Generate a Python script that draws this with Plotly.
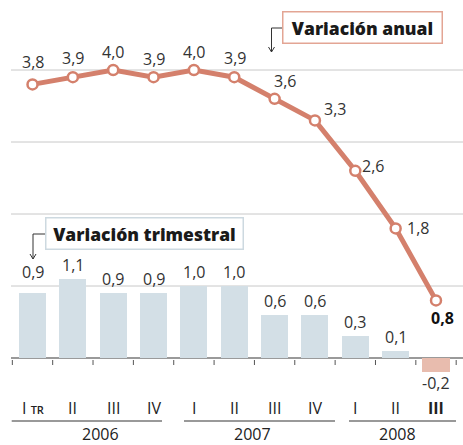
import plotly.graph_objects as go

# ---- data ----
quarters = ["I", "II", "III", "IV", "I", "II", "III", "IV", "I", "II", "III"]
years = ["2006", "2007", "2008"]
annual = [3.8, 3.9, 4.0, 3.9, 4.0, 3.9, 3.6, 3.3, 2.6, 1.8, 0.8]
quarterly = [0.9, 1.1, 0.9, 0.9, 1.0, 1.0, 0.6, 0.6, 0.3, 0.1, -0.2]

# ---- geometry (pixels) ----
W, H = 463, 445
X0_PX, DX_PX = 32.5, 40.35   # centre of first category, spacing
Y0_PX, DY_PX = 358, 72       # zero line, px per unit
x_range = [-X0_PX / DX_PX, (W - X0_PX) / DX_PX]
y_range = [(Y0_PX - H) / DY_PX, Y0_PX / DY_PX]


def px2x(px):
    return (px - X0_PX) / DX_PX


def py2y(py):
    return (Y0_PX - py) / DY_PX


def xp(px):
    return px / W


def yp(py):
    return 1 - py / H


def fmt(v):
    return f"{v:.1f}".replace(".", ",")


SALMON = "#d4806c"
BAR = "#d3dfe6"
NEG = "#e8bcae"
TXT = "#333333"
NUMFONT = "Open Sans"
TITLEFONT = "Open Sans"
NUMSIZE = 16

xs = list(range(len(annual)))

fig = go.Figure()
fig.add_trace(go.Bar(
    x=xs, y=quarterly, width=0.67,
    marker=dict(color=[BAR if v >= 0 else NEG for v in quarterly], line=dict(width=0)),
    hoverinfo="skip",
))
fig.add_trace(go.Scatter(
    x=xs, y=annual, mode="lines+markers",
    line=dict(color=SALMON, width=5),
    marker=dict(size=10, color="white", line=dict(color=SALMON, width=2.5)),
    hoverinfo="skip",
))

shapes = []
# gridlines
for g in [1, 2, 3, 4]:
    shapes.append(dict(type="line", xref="paper", yref="y", x0=xp(11), x1=1, y0=g, y1=g,
                       line=dict(color="#c8c8c8", width=1), layer="below"))
shapes.append(dict(type="line", xref="paper", yref="y", x0=xp(11), x1=1, y0=0, y1=0,
                   line=dict(color="#9a9a9a", width=2), layer="below"))
# ticks between categories
for i in range(len(annual) + 1):
    shapes.append(dict(type="line", xref="x", yref="y", x0=i - 0.5, x1=i - 0.5,
                       y0=py2y(360), y1=py2y(365), line=dict(color="#555", width=1)))
# year underlines
year_spans = [(11.7, 162), (184, 335), (349, 456)]
for a, b in year_spans:
    shapes.append(dict(type="line", xref="paper", yref="paper", x0=xp(a), x1=xp(b),
                       y0=yp(421), y1=yp(421), line=dict(color="#999", width=2)))


def elbow(x_start, y_row, x_corner, y_tip):
    path = (f"M {xp(x_start)},{yp(y_row)} L {xp(x_corner)},{yp(y_row)} "
            f"L {xp(x_corner)},{yp(y_tip)}")
    head = (f"M {xp(x_corner - 3)},{yp(y_tip - 5)} L {xp(x_corner)},{yp(y_tip)} "
            f"L {xp(x_corner + 3)},{yp(y_tip - 5)}")
    return [dict(type="path", xref="paper", yref="paper", path=path,
                 line=dict(color="#333", width=1)),
            dict(type="path", xref="paper", yref="paper", path=head,
                 line=dict(color="#333", width=1))]


shapes += elbow(282, 28, 271.5, 52)
shapes += elbow(45, 234, 33, 259)

ann = []
# annual labels
line_off = [(0, 22), (0, 19), (0, 18), (0, 18), (0, 18), (1, 19), (10, 18), (20, 11),
            (18, 5), (22, 0), (6, -18)]
for i, v in enumerate(annual):
    dx, dy = line_off[i]
    last = i == len(annual) - 1
    ann.append(dict(x=i, y=v, xref="x", yref="y", text=(f"<b>{fmt(v)}</b>" if last else fmt(v)),
                    showarrow=False, xshift=dx, yshift=dy, xanchor="center", yanchor="middle",
                    font=dict(family=NUMFONT, size=NUMSIZE, color="#111" if last else TXT)))
# quarterly labels
for i, v in enumerate(quarterly):
    if v >= 0:
        dy = 21 if i == 0 else 14
        ann.append(dict(x=i, y=v, xref="x", yref="y", text=fmt(v), showarrow=False,
                        yshift=dy, yanchor="middle",
                        font=dict(family=NUMFONT, size=NUMSIZE, color=TXT)))
    else:
        ann.append(dict(x=i, y=v, xref="x", yref="y", text=fmt(v), showarrow=False,
                        yshift=-11, yanchor="middle",
                        font=dict(family=NUMFONT, size=NUMSIZE, color=TXT)))
# quarter labels
for i, q in enumerate(quarters):
    if i == 0:
        t = "I <span style='font-size:11px;font-weight:600'>TR</span>"
    elif i == len(quarters) - 1:
        t = f"<b>{q}</b>"
    else:
        t = q
    ann.append(dict(x=i, y=py2y(408), xref="x", yref="y", text=t, showarrow=False,
                    yanchor="middle", font=dict(family=NUMFONT, size=16, color="#222")))
# year labels
for yl, cx in zip(years, [80, 252, 418]):
    ann.append(dict(x=xp(cx), y=yp(434), xref="paper", yref="paper", text=yl, showarrow=False,
                    yanchor="middle", font=dict(family=NUMFONT, size=16, color="#222")))
# titled boxes
ann.append(dict(x=xp(362), y=yp(27.5), xref="paper", yref="paper",
                text="Variación anual", showarrow=False,
                width=152, height=24, borderpad=3, borderwidth=1.5, bordercolor="#e3a594",
                bgcolor="white", xanchor="center", yanchor="middle",
                font=dict(family=TITLEFONT, size=17.5, color="#1a1a1a", weight=800)))
ann.append(dict(x=xp(144), y=yp(233), xref="paper", yref="paper",
                text="Variación trimestral", showarrow=False,
                width=190, height=24, borderpad=3, borderwidth=1.5, bordercolor="#cdd9e0",
                bgcolor="white", xanchor="center", yanchor="middle",
                font=dict(family=TITLEFONT, size=17.5, color="#1a1a1a", weight=800)))

fig.update_layout(
    width=W, height=H,
    margin=dict(l=0, r=0, t=0, b=0),
    paper_bgcolor="white", plot_bgcolor="white",
    showlegend=False,
    xaxis=dict(range=x_range, visible=False, fixedrange=True),
    yaxis=dict(range=y_range, visible=False, fixedrange=True),
    shapes=shapes, annotations=ann,
    bargap=0,
)

fig.write_html("out.html", config={"displayModeBar": False},
               post_script="document.body.style.margin='0';document.body.style.padding='0';")
